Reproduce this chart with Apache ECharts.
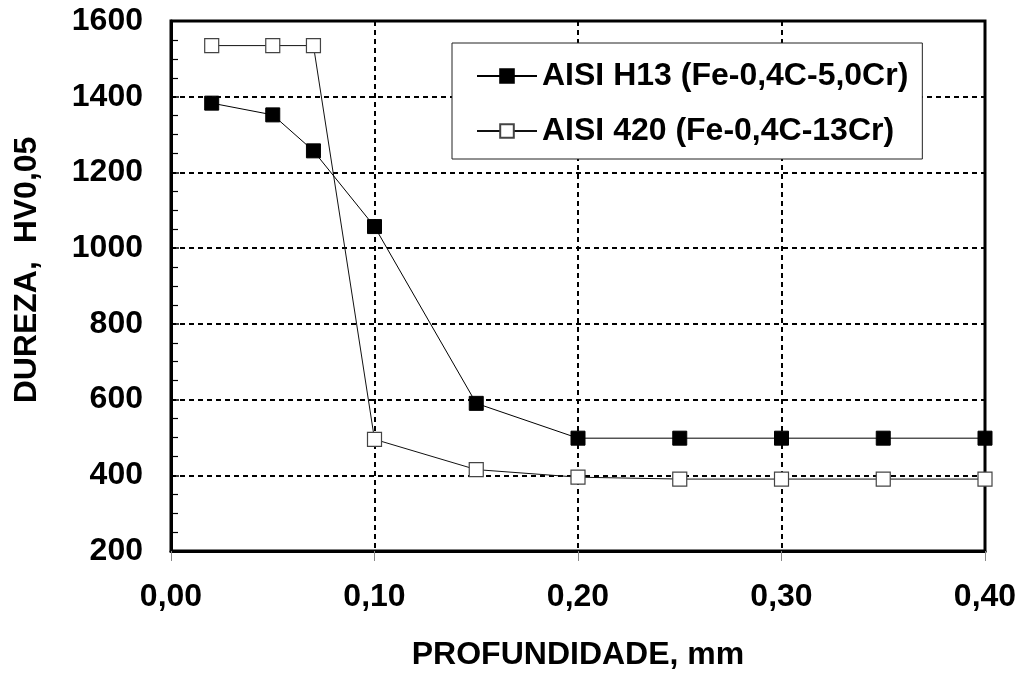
<!DOCTYPE html>
<html>
<head>
<meta charset="utf-8">
<script src="https://cdn.jsdelivr.net/npm/echarts@6/dist/echarts.min.js"></script>
<style>
  html, body { margin: 0; padding: 0; background: #fff; }
  #main { width: 1020px; height: 676px; }
</style>
</head>
<body>
<div id="main"></div>
<script>
var depth = [0.02, 0.05, 0.07, 0.10, 0.15, 0.20, 0.25, 0.30, 0.35, 0.40];
var h13 = [1383, 1352, 1257, 1057, 590, 498, 498, 498, 498, 498];
var aisi420 = [1535, 1535, 1535, 495, 415, 395, 390, 390, 390, 390];
var seriesNames = ['AISI H13 (Fe-0,4C-5,0Cr)', 'AISI 420 (Fe-0,4C-13Cr)'];

function pairs(xs, ys) {
  return xs.map(function (x, i) { return [x, ys[i]]; });
}

var font = 'Liberation Sans, Arial, sans-serif';
var chart = echarts.init(document.getElementById('main'));

var option = {
  backgroundColor: '#fff',
  animation: false,
  grid: {
    left: 171, top: 21, right: 35, bottom: 123,
    show: true, borderColor: '#000', borderWidth: 3, backgroundColor: 'transparent'
  },
  legend: {
    orient: 'vertical',
    left: 452, top: 43,
    padding: [17, 14, 12, 24],
    itemGap: 23,
    itemWidth: 60, itemHeight: 17,
    backgroundColor: '#fff',
    borderColor: '#222', borderWidth: 1,
    textStyle: { fontFamily: font, fontWeight: 'bold', fontSize: 32, color: '#000' },
    data: seriesNames
  },
  xAxis: {
    type: 'value', min: 0, max: 0.4, interval: 0.1,
    name: 'PROFUNDIDADE, mm', nameLocation: 'middle', nameGap: 88,
    nameTextStyle: { fontFamily: font, fontWeight: 'bold', fontSize: 32, color: '#000' },
    axisLine: { show: true, lineStyle: { color: '#000', width: 3 } },
    axisTick: { show: true, inside: false, length: 10, lineStyle: { color: '#888', width: 1 } },
    axisLabel: {
      margin: 30, fontFamily: font, fontWeight: 'bold', fontSize: 32, color: '#000',
      formatter: function (v) { return v.toFixed(2).replace('.', ','); }
    },
    splitLine: { show: true, lineStyle: { color: '#000', width: 2, type: [5, 4] } }
  },
  yAxis: {
    type: 'value', min: 200, max: 1600, interval: 200,
    name: 'DUREZA,  HV0,05', nameLocation: 'middle', nameGap: 128,
    nameTextStyle: { fontFamily: font, fontWeight: 'bold', fontSize: 32, color: '#000', padding: [0, 0, 0, 32] },
    axisLine: { show: true, lineStyle: { color: '#000', width: 3 } },
    axisTick: { show: true, inside: true, length: 8, lineStyle: { color: '#000', width: 1.5 } },
    minorTick: { show: true, splitNumber: 4, length: 7, lineStyle: { color: '#000', width: 1.2 } },
    axisLabel: {
      margin: 28, fontFamily: font, fontWeight: 'bold', fontSize: 32, color: '#000',
      formatter: function (v) { return String(v); }
    },
    splitLine: { show: true, lineStyle: { color: '#000', width: 2, type: [5, 4] } }
  },
  series: [
    {
      name: seriesNames[0],
      type: 'line',
      symbol: 'rect', symbolSize: 14,
      lineStyle: { color: '#000', width: 1 },
      itemStyle: { color: '#000', borderColor: '#000', borderWidth: 1 },
      data: pairs(depth, h13),
      z: 3
    },
    {
      name: seriesNames[1],
      type: 'line',
      symbol: 'rect', symbolSize: 14,
      lineStyle: { color: '#111', width: 1 },
      itemStyle: { color: '#fff', borderColor: '#444', borderWidth: 1.2 },
      data: pairs(depth, aisi420),
      z: 2
    }
  ]
};
chart.setOption(option);
</script>
</body>
</html>
